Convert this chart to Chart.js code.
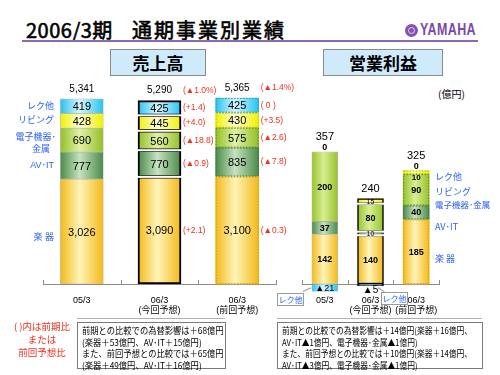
<!DOCTYPE html>
<html>
<head>
<meta charset="utf-8">
<script src="https://cdn.jsdelivr.net/npm/chart.js@4.4.1/dist/chart.umd.min.js"></script>
<style>
  body { margin: 0; width: 500px; height: 375px; background: #fff; position: relative; overflow: hidden;
         font-family: "Liberation Sans", "Noto Sans CJK JP", sans-serif; }
  .abs { position: absolute; white-space: nowrap; }
  .title { top: 15px; font-size: 20px; color: #000; font-family: "Noto Sans CJK JP", sans-serif;
           -webkit-text-stroke: 0.6px #000; }
  .hbox { top: 49px; height: 25px; background: #cfeafb; border: 1px solid #8a8a8a; text-align: center;
          font-size: 17px; font-weight: bold; line-height: 25px; font-family: "Noto Sans CJK JP", sans-serif; }
  .blue { color: #2a62f0; font-size: 9px; font-family: "Noto Sans CJK JP", sans-serif; }
  .note { border: 1px solid #7a7a7a; font-size: 9px; line-height: 11.5px; padding: 2px 4px;
          font-family: "Noto Sans CJK JP", sans-serif; }
  .note div { transform-origin: left center; }
  .tag { background: #fff; border: 1px solid #9a9a9a; color: #2a62f0; font-size: 8px; line-height: 11px;
         width: 25px; text-align: center; font-family: "Noto Sans CJK JP", sans-serif; overflow: hidden; }
  canvas { position: absolute; }
</style>
</head>
<body>
<div class="abs title" style="left:26px;letter-spacing:0.5px;">2006/3期</div>
<div class="abs title" style="left:132px;letter-spacing:2px;">通期事業別業績</div>
<div class="abs" style="left:405px;top:24px;width:13px;height:13px;border-radius:50%;background:#8552b0;"></div>
<div class="abs" style="left:408px;top:27px;width:5px;height:5px;border-radius:50%;border:1px solid #e6d6f2;"></div>
<div class="abs" style="left:420px;top:21px;font-size:16px;font-weight:bold;color:#7b4aa6;transform:scaleX(0.78);transform-origin:left;letter-spacing:0.5px;">YAMAHA</div>
<div class="abs" style="left:22px;top:40px;width:456px;height:2px;background:#8d69b2;"></div>

<div class="abs hbox" style="left:110px;width:94px;">売上高</div>
<div class="abs hbox" style="left:323px;width:118px;">営業利益</div>
<div class="abs" style="left:438px;top:86px;font-size:10px;font-family:'Noto Sans CJK JP';">(億円)</div>

<canvas id="sales" width="300" height="330" style="left:0;top:0;"></canvas>
<canvas id="profit" width="220" height="330" style="left:280px;top:0;"></canvas>

<!-- profit segment names (right of the 前回予想 bar) -->
<div class="abs blue" style="left:435px;top:170px;">レク他</div>
<div class="abs blue" style="left:435px;top:185px;">リビング</div>
<div class="abs blue" style="left:435px;top:198px;font-size:8.5px;">電子機器･金属</div>
<div class="abs blue" style="left:435px;top:220px;">AV･IT</div>
<div class="abs blue" style="left:435px;top:252px;">楽 器</div>

<div class="abs tag" style="left:277px;top:293px;">レク他</div>
<div class="abs tag" style="left:381px;top:292px;">レク他</div>
<div class="abs" style="left:303px;top:291px;width:9px;height:1px;background:#9a9a9a;transform:rotate(-25deg);transform-origin:left;"></div>
<div class="abs" style="left:378px;top:287px;width:8px;height:1px;background:#9a9a9a;transform:rotate(35deg);transform-origin:left;"></div>

<div class="abs" style="left:77px;top:318px;width:148px;height:1px;background:#b0b0b0;"></div>
<div class="abs" style="left:277px;top:318px;width:205px;height:1px;background:#b0b0b0;"></div>

<div class="abs" style="left:6px;top:320px;width:72px;text-align:center;color:#f03020;font-size:9.5px;line-height:13px;font-family:'Noto Sans CJK JP';">( )内は前期比<br>または<br>前回予想比</div>

<div class="abs note" style="left:77px;top:322px;width:139px;height:41px;">
  <div style="transform:scaleX(0.92)">前期との比較での為替影響は＋68億円</div>
  <div style="transform:scaleX(0.92)">(楽器＋53億円、AV･IT＋15億円)</div>
  <div style="transform:scaleX(0.92)">また、前回予想との比較では＋65億円</div>
  <div style="transform:scaleX(0.92)">(楽器＋49億円、AV･IT＋16億円)</div>
</div>
<div class="abs note" style="left:277px;top:322px;width:196px;height:41px;">
  <div style="transform:scaleX(0.86)">前期との比較での為替影響は＋14億円(楽器＋16億円、</div>
  <div style="transform:scaleX(0.86)">AV･IT▲1億円、電子機器･金属▲1億円)</div>
  <div style="transform:scaleX(0.86)">また、前回予想との比較では＋10億円(楽器＋14億円、</div>
  <div style="transform:scaleX(0.86)">AV･IT▲3億円、電子機器･金属▲1億円)</div>
</div>

<script>
const categories = [['05/3'], ['06/3', '(今回予想)'], ['06/3', '(前回予想)']];
const segmentNames = ['楽 器', 'AV･IT', '電子機器･金属', 'リビング', 'レク他'];

// 売上高 (億円)
const salesMusic = [3026, 3090, 3100];
const salesAvIt = [777, 770, 835];
const salesElec = [690, 560, 575];
const salesLiving = [428, 445, 430];
const salesRec = [419, 425, 425];
const salesTotal = [5341, 5290, 5365];
// ( )内 前期比 / 前回予想比 -- segment order, last one is the total
const salesDiffNow = ['(+2.1)', '(▲0.9)', '(▲18.8)', '(+4.0)', '(+1.4)', '(▲1.0%)'];
const salesDiffPrev = ['(▲0.3)', '(▲7.8)', '(▲2.6)', '(+3.5)', '( 0 )', '(▲1.4%)'];

// 営業利益 (億円)
const profitMusic = [142, 140, 185];
const profitAvIt = [37, 10, 40];
const profitElec = [200, 80, 90];
const profitLiving = [0, 15, 10];
const profitRec = [-21, -5, 0];
const profitTotal = [357, 240, 325];

const salesFills = [
  ['#f3b91a', '#fff4b8'],
  ['#4a8a4a', '#c6e3bf'],
  ['#93bf28', '#e0f1a4'],
  ['#f0f000', '#ffffd6'],
  ['#27c3f0', '#d6f6ff'],
];
const profitFills = [
  ['#f3b91a', '#fff4b8'],
  ['#4a8a4a', '#c6e3bf'],
  ['#96c22c', '#d9ee92'],
  ['#f0f000', '#ffffb0'],
  ['#27c3f0', '#d6f6ff'],
];
const dotColors = ['#d4a000', '#3b763b', '#5f8a10', '#c9c200', '#1898c8'];
const RED = '#f03020';
const BLUE = '#2a62f0';
const JP = '"Liberation Sans", "Noto Sans CJK JP", sans-serif';

function barFill(colors, thickness) {
  return (c) => {
    const x = c.chart.scales.x;
    if (!x || c.dataIndex === undefined) return colors[0];
    const cx = x.getPixelForValue(c.dataIndex);
    if (!isFinite(cx)) return colors[0];
    const g = c.chart.ctx.createLinearGradient(cx - thickness / 2, 0, cx + thickness / 2, 0);
    g.addColorStop(0, colors[0]);
    g.addColorStop(0.45, colors[1]);
    g.addColorStop(1, colors[0]);
    return g;
  };
}

function fmt(v) {
  if (v < 0) return '▲' + Math.abs(v);
  return v.toLocaleString('en-US');
}

function text(ctx, s, x, y, font, color, align) {
  ctx.font = font;
  ctx.fillStyle = color;
  ctx.textAlign = align || 'center';
  ctx.textBaseline = 'middle';
  ctx.fillText(s, x, y);
}

// small upward ticks at the category boundaries
const upTicks = {
  id: 'upTicks',
  afterDatasetsDraw(chart) {
    const x = chart.scales.x;
    const ctx = chart.ctx;
    const n = chart.data.labels.length;
    ctx.save();
    ctx.strokeStyle = '#8c8c8c';
    ctx.lineWidth = 1;
    for (let i = 0; i <= n; i++) {
      const px = Math.round(x.left + i * (x.width / n)) + 0.5;
      ctx.beginPath();
      ctx.moveTo(px, x.top);
      ctx.lineTo(px, x.top - 4);
      ctx.stroke();
    }
    ctx.restore();
  },
};

// 今回予想: white gaps between the boxed segments, 前回予想: dotted outline
const barStyle = {
  id: 'barStyle',
  afterDatasetsDraw(chart) {
    const ctx = chart.ctx;
    ctx.save();
    chart.data.datasets.forEach((ds, d) => {
      const meta = chart.getDatasetMeta(d);
      const now = meta.data[1];
      if (ds.data[1] > 0 && chart.data.datasets.slice(d + 1).some((o) => o.data[1] > 0)) {
        ctx.fillStyle = '#fff';
        ctx.fillRect(now.x - now.width / 2 - 1, now.y - 1, now.width + 2, 2);
      }
      const prev = meta.data[2];
      if (ds.data[2] !== 0) {
        ctx.strokeStyle = dotColors[d];
        ctx.lineWidth = 1;
        ctx.setLineDash([1.5, 1.5]);
        const top = Math.min(prev.y, prev.base);
        const h = Math.abs(prev.base - prev.y);
        ctx.strokeRect(prev.x - prev.width / 2 + 0.5, top + 0.5, prev.width - 1, Math.max(h - 1, 1));
        ctx.setLineDash([]);
      }
    });
    ctx.restore();
  },
};

const salesLabels = {
  id: 'salesLabels',
  afterDraw(chart) {
    const ctx = chart.ctx;
    const diffs = [null, salesDiffNow, salesDiffPrev];
    ctx.save();
    for (let i = 0; i < categories.length; i++) {
      let topY = Infinity;
      let right = 0;
      let cx = 0;
      chart.data.datasets.forEach((ds, d) => {
        const el = chart.getDatasetMeta(d).data[i];
        const cy = (el.y + el.base) / 2;
        cx = el.x;
        right = el.x + el.width / 2;
        topY = Math.min(topY, el.y);
        text(ctx, fmt(ds.data[i]), el.x, cy + 1, '11px ' + JP, '#000');
        if (diffs[i]) text(ctx, diffs[i][d], right + 2, cy, '8.5px ' + JP, RED, 'left');
        if (i === 0) {
          if (d === 2) {
            text(ctx, '電子機器･', 56, cy - 3, '9px ' + JP, BLUE, 'right');
            text(ctx, '金属', 50, cy + 9, '9px ' + JP, BLUE, 'right');
          } else {
            text(ctx, segmentNames[d], 54, d === 0 ? cy + 6 : cy, '9px ' + JP, BLUE, 'right');
          }
        }
      });
      text(ctx, fmt(salesTotal[i]), cx, topY - 10, '10px ' + JP, '#000');
      if (diffs[i]) text(ctx, diffs[i][5], right + 2, topY - 10, '8.5px ' + JP, RED, 'left');
    }
    ctx.restore();
  },
};

const profitLabels = {
  id: 'profitLabels',
  afterDraw(chart) {
    const ctx = chart.ctx;
    ctx.save();
    for (let i = 0; i < categories.length; i++) {
      let topY = Infinity;
      let cx = 0;
      let hasZero = false;
      chart.data.datasets.forEach((ds, d) => {
        const el = chart.getDatasetMeta(d).data[i];
        cx = el.x;
        topY = Math.min(topY, el.y, el.base);
      });
      chart.data.datasets.forEach((ds, d) => {
        const el = chart.getDatasetMeta(d).data[i];
        const v = ds.data[i];
        const h = Math.abs(el.base - el.y);
        const cy = (el.y + el.base) / 2;
        if (v === 0) {
          hasZero = true;
          text(ctx, '0', el.x, topY - 4, 'bold 9px ' + JP, '#000');
        } else if (v < 0) {
          if (h >= 6) text(ctx, fmt(v), el.x, cy + 0.5, '9px ' + JP, '#000');
          else text(ctx, fmt(v), el.x, el.base + 6, '10px ' + JP, '#000');
        } else if (h < 8 && i === 2) {
          text(ctx, fmt(v), el.x, el.base + 4, 'bold 8px ' + JP, '#000');
        } else {
          text(ctx, fmt(v), el.x, cy + 0.5, (h < 8 ? '7px ' : 'bold 9px ') + JP, '#000');
        }
      });
      text(ctx, fmt(profitTotal[i]), cx, topY - (hasZero ? 15 : 10), '11px ' + JP, '#000');
    }
    ctx.restore();
  },
};

function makeSets(series, fills, thickness, borderNow) {
  return series.map((data, k) => ({
    label: segmentNames[k],
    data,
    backgroundColor: barFill(fills[k], thickness),
    borderColor: (c) => (c.dataIndex === 1 ? '#000' : 'rgba(110,110,110,0.45)'),
    borderWidth: (c) => (c.dataIndex === 1 ? borderNow : c.dataIndex === 0 ? 0.7 : 0),
    borderSkipped: false,
    barThickness: thickness,
    clip: false,
  }));
}

function makeOptions(padding, yMax) {
  return {
    responsive: false,
    animation: false,
    layout: { padding },
    plugins: { legend: { display: false }, tooltip: { enabled: false } },
    scales: {
      x: {
        stacked: true,
        offset: true,
        grid: { display: false, drawTicks: false },
        border: { display: true, color: '#8c8c8c', width: 1 },
        ticks: { color: '#000', font: { size: 9, family: JP, lineHeight: 1.1 }, padding: 12, maxRotation: 0, autoSkip: false },
        afterFit: (s) => { s.height = 40; },
      },
      y: { stacked: true, display: false, min: 0, max: yMax },
    },
  };
}

new Chart(document.getElementById('sales'), {
  type: 'bar',
  data: {
    labels: categories,
    datasets: makeSets([salesMusic, salesAvIt, salesElec, salesLiving, salesRec], salesFills, 43, 2),
  },
  options: makeOptions({ left: 43, right: 24, top: 76, bottom: 6 }, 6000),
  plugins: [upTicks, barStyle, salesLabels],
});

new Chart(document.getElementById('profit'), {
  type: 'bar',
  data: {
    labels: categories,
    datasets: makeSets([profitMusic, profitAvIt, profitElec, profitLiving, profitRec], profitFills, 26, 1.5),
  },
  options: makeOptions({ left: 22, right: 61, top: 127, bottom: 6 }, 450),
  plugins: [upTicks, barStyle, profitLabels],
});
</script>
</body>
</html>
